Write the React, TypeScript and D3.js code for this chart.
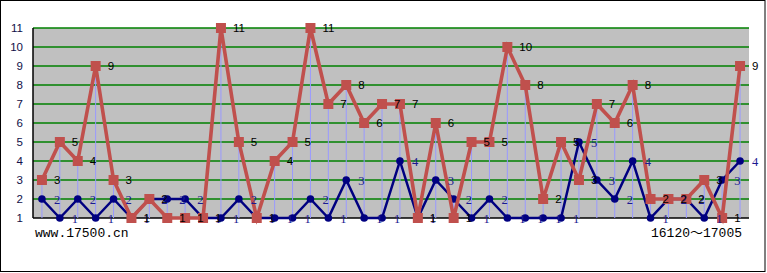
import React from "react";
import * as d3 from "d3";

const redValues = [3,5,4,9,3,1,2,1,1,1,11,5,1,4,5,11,7,8,6,7,7,1,6,1,5,5,10,8,2,5,3,7,6,8,2,2,2,3,1,9];
const blueValues = [2,1,2,1,2,1,2,2,2,1,1,2,1,1,1,2,1,3,1,1,4,1,3,2,1,2,1,1,1,1,5,3,2,4,1,2,2,1,3,4];
const yTicks = [1,2,3,4,5,6,7,8,9,10,11];
const leftNote = "www.17500.cn";
const rightNote = "16120～17005";

const W = 767, H = 273;
const M = { left: 33, right: 749, top: 28, bottom: 218 };

export default function App() {
  const idx = redValues.map((_, i) => i);
  const x = d3.scaleBand<number>().domain(idx).range([M.left, M.right]);
  const cx = (i: number) => (x(i) as number) + x.bandwidth() / 2;
  const y = d3.scaleLinear().domain([1, 11]).range([M.bottom, M.top]);
  const redLine = d3.line<number>().x((_, i) => cx(i)).y((v) => y(v));
  const blueLine = d3.line<number>().x((_, i) => cx(i)).y((v) => y(v));
  const labelFont = "'Liberation Sans', Arial, sans-serif";

  return (
    <svg width={W} height={H} style={{ position: "absolute", left: 0, top: 0, background: "#fff" }}>
      <rect x={0.5} y={0.5} width={764.5} height={271} fill="#fff" stroke="#000" strokeWidth={1} />
      <rect x={M.left} y={M.top} width={M.right - M.left} height={M.bottom - M.top} fill="#c0c0c0" />
      {yTicks.filter((t) => t > 1).map((t) => (
        <line key={"g" + t} x1={M.left} x2={M.right} y1={y(t)} y2={y(t)} stroke="#008000" strokeWidth={1.5} />
      ))}
      <line x1={M.left} x2={M.right} y1={M.bottom} y2={M.bottom} stroke="#000" strokeWidth={1.5} />
      <line x1={M.left} x2={M.left} y1={M.top} y2={M.bottom} stroke="#000" strokeWidth={1.5} />
      {yTicks.map((t) => (
        <text key={"t" + t} x={23} y={y(t)} dy="0.35em" textAnchor="end" fontSize={11.5} fontFamily={labelFont} fill="#101048">
          {t}
        </text>
      ))}
      {idx.map((i) => (
        <line key={"d" + i} x1={cx(i)} x2={cx(i)} y1={y(Math.max(redValues[i], blueValues[i]))} y2={M.bottom} stroke="#9999ff" strokeWidth={1} />
      ))}
      <path d={blueLine(blueValues) || ""} fill="none" stroke="#000080" strokeWidth={2.5} />
      {blueValues.map((v, i) => (
        <circle key={"bc" + i} cx={cx(i)} cy={y(v)} r={3.8} fill="#000080" />
      ))}
      <path d={redLine(redValues) || ""} fill="none" stroke="#c0504d" strokeWidth={3.6} />
      {redValues.map((v, i) => (
        <rect key={"rs" + i} x={cx(i) - 5} y={y(v) - 5} width={10} height={10} fill="#c0504d" />
      ))}
      {blueValues.map((v, i) => (
        <text key={"bl" + i} x={cx(i) + 12} y={y(v) + 1} dy="0.35em" fontSize={12.5} fontFamily="'Liberation Serif', serif" fill="#1a1a90">
          {v}
        </text>
      ))}
      {redValues.map((v, i) => (
        <text key={"rl" + i} x={cx(i) + 12} y={y(v)} dy="0.35em" fontSize={11.5} fontFamily="'Liberation Sans', sans-serif" fill="#000">
          {v}
        </text>
      ))}
      <text x={35} y={237} fontSize={13} fontFamily="'Liberation Mono', monospace" fill="#000">{leftNote}</text>
      <text x={742} y={237} textAnchor="end" fontSize={13} fontFamily="'Liberation Mono', 'Noto Sans CJK SC', monospace" fill="#000">{rightNote}</text>
    </svg>
  );
}
